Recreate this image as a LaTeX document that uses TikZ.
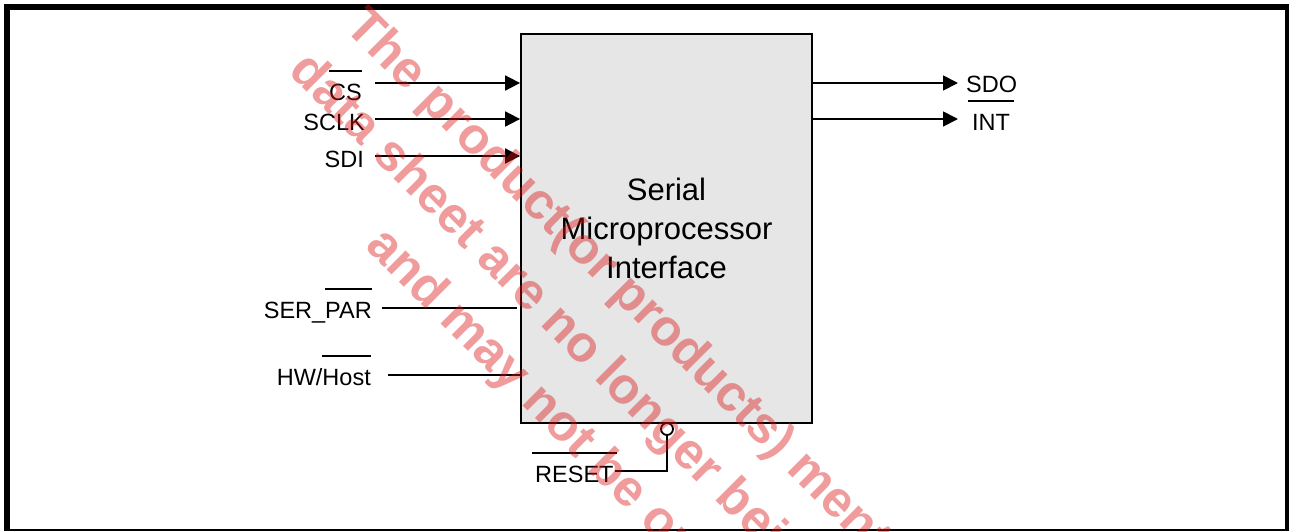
\documentclass[tikz,border=0pt]{standalone}
\usepackage{fontspec}
\setmainfont{Liberation Sans}
\usetikzlibrary{arrows.meta}

% active-low bar over a signal name; optional argument widens the bar on both sides
\newcommand\lowbar[2][0pt]{\leavevmode\setbox0\hbox{#2}%
  \rlap{\hskip-#1\rule[28pt]{\dimexpr\wd0+#1+#1\relax}{1.7pt}}\box0}

\definecolor{boxgray}{RGB}{230,230,230}
\definecolor{wmred}{RGB}{220,20,20}

\tikzset{
  sig/.style={line width=1.8pt},
  sigarrow/.style={sig, -{Triangle[length=15pt,width=15pt]}},
  pinlabel/.style={inner sep=0pt, font=\fontsize{23.5}{28}\selectfont},
  blockbox/.style={draw, line width=1.8pt, fill=boxgray, inner sep=0pt,
    minimum width=291pt, minimum height=389pt, align=center,
    font=\fontsize{31}{39}\selectfont},
  bubble/.style={circle, draw, line width=1.8pt, fill=white, inner sep=0pt, minimum size=12pt},
  stamp/.style={inner sep=0pt, anchor=base west, rotate=-45, text=wmred, opacity=0.42,
    font=\fontsize{51}{60}\selectfont\bfseries}
}

\begin{document}
\begin{tikzpicture}[x=1pt, y=-1pt]
\useasboundingbox (0,0) rectangle (1299,531);

% outer frame
\fill (4,4) rectangle (1289,10);
\fill (4,4) rectangle (10,531);
\fill (1285,4) rectangle (1289,531);
\fill (4,528.5) rectangle (1289,531);

% interface block
\node[blockbox] (blk) at (666.5,228.5) {Serial\\Microprocessor\\Interface};

% input pins
\node[pinlabel, anchor=base east] (cs)   at (362,100) {\lowbar{CS}};
\node[pinlabel, anchor=base east] (sclk) at (365,130) {SCLK};
\node[pinlabel, anchor=base east] (sdi)  at (364,167) {SDI};
\node[pinlabel, anchor=base east] (serpar) at (372,318) {SER\_\lowbar{PAR}};
\node[pinlabel, anchor=base east] (hw)   at (371,385) {HW/\lowbar{Host}};

\coordinate (csin)   at (375,83);
\coordinate (sclkin) at (375,119);
\coordinate (sdiin)  at (375,156);
\coordinate (spin)   at (382,308);
\coordinate (spend)  at (517,308);
\coordinate (hwin)   at (388,375);

\draw[sigarrow] (csin) -- (csin -| blk.west);
\draw[sigarrow] (sclkin) -- (sclkin -| blk.west);
\draw[sigarrow] (sdiin) -- (sdiin -| blk.west);
\draw[sig] (spin) -- (spend);
\draw[sig] (hwin) -- (hwin -| blk.west);

% output pins
\node[pinlabel, anchor=base west] (sdo) at (966,92) {SDO};
\node[pinlabel, anchor=base west] (int) at (972,130) {\lowbar[4pt]{INT}};
\coordinate (sdoout) at (958,83);
\coordinate (intout) at (958,119);
\draw[sigarrow] (sdoout -| blk.east) -- (sdoout);
\draw[sigarrow] (intout -| blk.east) -- (intout);

% reset input with inversion bubble
\node[bubble] (rstb) at (667,429) {};
\node[pinlabel, anchor=base west] (rst) at (535,482) {\lowbar[3pt]{RESET}};
\coordinate (rstin) at (615,471);
\draw[sig] (rstin) -| (rstb.south);

% obsolescence stamp
\begin{scope}
\clip (0,0) rectangle (1299,531);
\node[stamp] (wm1) at (343,28)  {The product(or products) mentioned in this};
\node[stamp] (wm2) at (287,72)  {data sheet are no longer being manufactured};
\node[stamp] (wm3) at (364,247) {and may not be ordered};
\end{scope}
\end{tikzpicture}
\end{document}
